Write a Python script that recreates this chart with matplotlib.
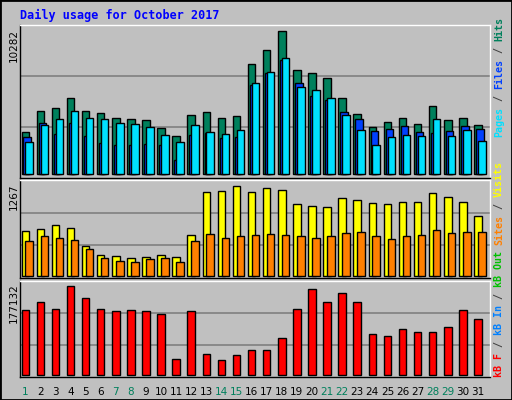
import matplotlib
matplotlib.use("Agg")
import matplotlib.pyplot as plt
from matplotlib.patches import Rectangle

days = list(range(1, 32))
weekend = [1, 7, 8, 14, 15, 21, 22, 28, 29]
hits = [3024,4559,4768,5466,4559,4419,4071,4001,3861,3303,2745,4280,4489,4071,4210,7908,8885,10282,7490,7280,6931,5466,4350,3373,3722,4071,3582,4908,3861,4071,3512]
files = [2675,3652,2908,3652,2745,2256,2117,2117,2186,2117,1000,2814,2954,2605,2675,6373,7280,8188,6513,5606,5327,4489,4001,3094,3233,3442,3024,2954,3094,3442,3233]
pages = [2326,3512,4001,4559,4071,4001,3652,3582,3373,2814,2326,3512,3024,2884,3163,6513,7350,8327,6234,6024,5466,4280,3163,2117,2675,2814,2745,3931,2745,3163,2396]
visits = [633,661,716,675,413,289,275,248,262,289,262,578,1184,1198,1267,1184,1239,1212,1019,991,978,1102,1074,1033,1019,1047,1047,1170,1115,1047,840]
sites = [496,565,537,509,372,248,207,193,234,248,193,496,592,537,565,578,592,578,565,537,565,606,620,565,523,565,578,647,606,620,620]
kbytes = [128470,145980,132360,177132,153770,130410,126520,128470,126520,120680,31140,126520,40870,29200,38930,48660,48660,73960,130410,171290,145980,163500,145980,81750,77860,91480,85640,85640,95370,128470,110940]

W, H = 512, 400
fig = plt.figure(figsize=(5.12, 4.0), dpi=100, facecolor="#C0C0C0")
fig.patches.append(Rectangle((0, 0), 1, 1, transform=fig.transFigure, fill=False, ec="black", lw=2))

def axes_px(x0, y0, x1, y1):
    return fig.add_axes([x0 / W, 1 - y1 / H, (x1 - x0) / W, (y1 - y0) / H])

mono = "DejaVu Sans Mono"
fig.text(20 / W, 1 - 15 / H, "Daily usage for October 2017", color="#0000FF",
         family=mono, weight="bold", fontsize=8.5, va="center", ha="left")

panels = [(25, 178), (180, 278), (281, 377)]
tops = [10282 / 0.96, 1267 / 0.935, 177132 / 0.945]
axs = []
for (y0, y1), top in zip(panels, tops):
    ax = axes_px(20, y0, 490, y1)
    ax.set_facecolor("#C0C0C0")
    ax.set_xlim(0.55, 31.7)
    ax.set_ylim(-top * 0.025, top)
    for f in (1 / 3, 2 / 3):
        ax.axhline(top * f - top * 0.025 * (1 - f), color="#808080", lw=1.2, zorder=0)
    ax.set_xticks([])
    ax.set_yticks([])
    for s in ax.spines.values():
        s.set_color("black")
        s.set_linewidth(1)
    ax.spines["top"].set_color("white")
    ax.spines["right"].set_color("white")
    axs.append(ax)

bw = 0.5
kw = dict(width=bw, align="edge", edgecolor="black", linewidth=1)
axs[0].bar([d - 0.35 for d in days], hits, color="#00805C", **kw)
axs[0].bar([d - 0.22 for d in days], files, color="#0040FF", **kw)
axs[0].bar([d - 0.09 for d in days], pages, color="#00E0FF", **kw)
axs[1].bar([d - 0.35 for d in days], visits, color="#FFFF00", **kw)
axs[1].bar([d - 0.09 for d in days], sites, color="#FF8000", **kw)
axs[2].bar([d - 0.35 for d in days], kbytes, color="#FF0000", **kw)

for d in days:
    axs[2].text(d - 0.1, -0.1, str(d), transform=axs[2].get_xaxis_transform(),
                ha="center", va="top", fontsize=7.5,
                color="#00805C" if d in weekend else "black")

for txt, ytop in [("10282", 29), ("1267", 183), ("177132", 283)]:
    fig.text(14 / W, 1 - ytop / H, txt, rotation=90, ha="center", va="top", fontsize=7.5)

fig.canvas.draw()
r = fig.canvas.get_renderer()

def chain(pieces, x, ybot):
    y = ybot
    for t, c in pieces:
        tt = fig.text(x / W, 1 - y / H, t, rotation=90, ha="center", va="bottom",
                      color=c, family=mono, weight="bold", fontsize=7.2)
        bb = tt.get_window_extent(r)
        y -= bb.height

sep = "#404040"
chain([("Pages", "#00E0FF"), (" / ", sep), ("Files", "#0040FF"), (" / ", sep), ("Hits", "#00805C")], 499, 137)
chain([("kB F", "#FF0000"), (" / ", sep), ("kB In", "#0080FF"), (" / ", sep), ("kB Out", "#00C000"),
       (" ", sep), ("Sites", "#FF8000"), (" / ", sep), ("Visits", "#FFFF00")], 499, 377)

fig.savefig("out.png", dpi=100, facecolor=fig.get_facecolor())
